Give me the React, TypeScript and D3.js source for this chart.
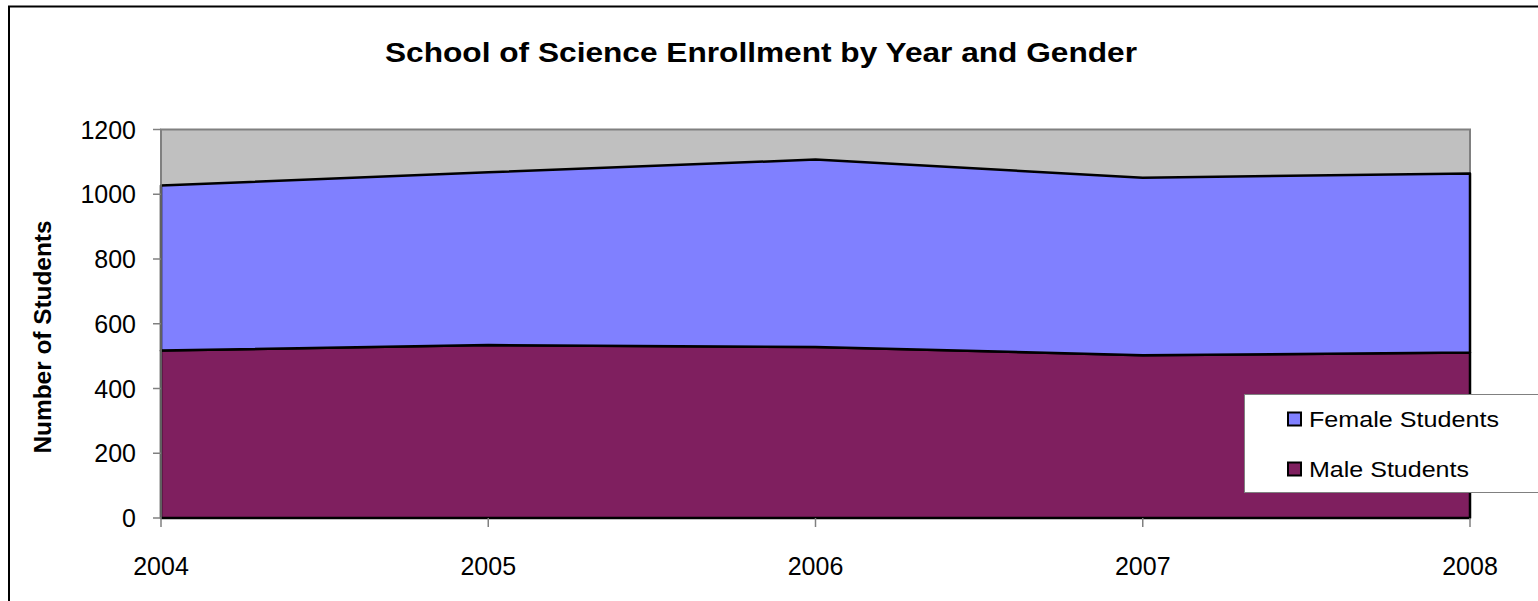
import { useRef, useEffect } from "react";
import * as d3 from "d3";

const years = [2004, 2005, 2006, 2007, 2008];
const maleStudents = [517, 534, 528, 503, 511];
const femaleStudents = [510, 534, 579, 548, 553];
const yTicks = [0, 200, 400, 600, 800, 1000, 1200];
const seriesNames = ["Male Students", "Female Students"];
const seriesColors = ["#7F1F5F", "#8080FF"];

export default function App() {
  const svgRef = useRef<SVGSVGElement>(null);

  useEffect(() => {
    if (!svgRef.current) return;
    const svg = d3.select(svgRef.current);
    svg.selectAll("*").remove();
    const font = "'Liberation Sans', Arial, sans-serif";

    // outer chart border
    svg
      .append("rect")
      .attr("x", 9)
      .attr("y", 6.5)
      .attr("width", 1560)
      .attr("height", 620)
      .attr("fill", "white")
      .attr("stroke", "black")
      .attr("stroke-width", 2);

    const left = 161;
    const right = 1470;
    const top = 129.5;
    const bottom = 518;

    const x = d3.scaleLinear().domain([2004, 2008]).range([left, right]);
    const y = d3.scaleLinear().domain([0, 1200]).range([bottom, top]);

    // plot area
    svg
      .append("rect")
      .attr("x", left)
      .attr("y", top)
      .attr("width", right - left)
      .attr("height", bottom - top)
      .attr("fill", "#C0C0C0")
      .attr("stroke", "#808080")
      .attr("stroke-width", 2);

    const table = years.map((yr, i) => ({
      year: yr,
      male: maleStudents[i],
      female: femaleStudents[i],
    }));
    const stacked = d3.stack<any>().keys(["male", "female"])(table);

    const area = d3
      .area<any>()
      .x((d) => x(d.data.year))
      .y0((d) => y(d[0]))
      .y1((d) => y(d[1]));

    svg
      .append("g")
      .selectAll("path")
      .data(stacked)
      .enter()
      .append("path")
      .attr("d", (d) => area(d) as string)
      .attr("fill", (_, i) => seriesColors[i])
      .attr("stroke", "black")
      .attr("stroke-width", 2.5)
      .attr("stroke-linejoin", "round");

    // y axis
    svg
      .append("line")
      .attr("x1", left)
      .attr("x2", left)
      .attr("y1", top)
      .attr("y2", bottom)
      .attr("stroke", "#808080")
      .attr("stroke-width", 1.5);

    const yAxis = svg.append("g");
    yAxis
      .selectAll("line")
      .data(yTicks)
      .enter()
      .append("line")
      .attr("x1", left - 8)
      .attr("x2", left)
      .attr("y1", (d) => y(d))
      .attr("y2", (d) => y(d))
      .attr("stroke", "#808080")
      .attr("stroke-width", 1.5);
    yAxis
      .selectAll("text")
      .data(yTicks)
      .enter()
      .append("text")
      .attr("x", 136)
      .attr("y", (d) => y(d))
      .attr("dy", "0.36em")
      .attr("text-anchor", "end")
      .attr("font-family", font)
      .attr("font-size", 25)
      .text((d) => d);

    // x axis
    const xAxis = svg.append("g");
    xAxis
      .selectAll("line")
      .data(years)
      .enter()
      .append("line")
      .attr("x1", (d) => x(d))
      .attr("x2", (d) => x(d))
      .attr("y1", bottom)
      .attr("y2", bottom + 9)
      .attr("stroke", "#808080")
      .attr("stroke-width", 1.5);
    xAxis
      .selectAll("text")
      .data(years)
      .enter()
      .append("text")
      .attr("x", (d) => x(d))
      .attr("y", 575)
      .attr("text-anchor", "middle")
      .attr("font-family", font)
      .attr("font-size", 25)
      .text((d) => d);

    // title
    svg
      .append("text")
      .attr("x", 761)
      .attr("y", 62)
      .attr("text-anchor", "middle")
      .attr("font-family", font)
      .attr("font-size", 28)
      .attr("font-weight", "bold")
      .attr("textLength", 752)
      .attr("lengthAdjust", "spacingAndGlyphs")
      .text("School of Science Enrollment by Year and Gender");

    // y axis title
    svg
      .append("text")
      .attr("transform", "translate(51,337) rotate(-90)")
      .attr("text-anchor", "middle")
      .attr("font-family", font)
      .attr("font-size", 24)
      .attr("font-weight", "bold")
      .attr("textLength", 233)
      .attr("lengthAdjust", "spacingAndGlyphs")
      .text("Number of Students");

    // legend
    const legend = svg.append("g");
    legend
      .append("rect")
      .attr("x", 1244.5)
      .attr("y", 394.5)
      .attr("width", 320)
      .attr("height", 98)
      .attr("fill", "white")
      .attr("stroke", "#808080")
      .attr("stroke-width", 1);
    const legendItems = [
      { name: seriesNames[1], color: seriesColors[1], base: 426.5, len: 190 },
      { name: seriesNames[0], color: seriesColors[0], base: 476.5, len: 160 },
    ];
    const li = legend
      .selectAll("g.item")
      .data(legendItems)
      .enter()
      .append("g")
      .attr("class", "item");
    li.append("rect")
      .attr("x", 1288)
      .attr("y", (d) => d.base - 14)
      .attr("width", 13)
      .attr("height", 13)
      .attr("fill", (d) => d.color)
      .attr("stroke", "black")
      .attr("stroke-width", 2);
    li.append("text")
      .attr("x", 1309)
      .attr("y", (d) => d.base)
      .attr("font-family", font)
      .attr("font-size", 22)
      .attr("textLength", (d) => d.len)
      .attr("lengthAdjust", "spacingAndGlyphs")
      .text((d) => d.name);
  }, []);

  return (
    <div style={{ position: "fixed", left: 0, top: 0 }}>
      <svg ref={svgRef} width={1538} height={601} style={{ display: "block" }} />
    </div>
  );
}
